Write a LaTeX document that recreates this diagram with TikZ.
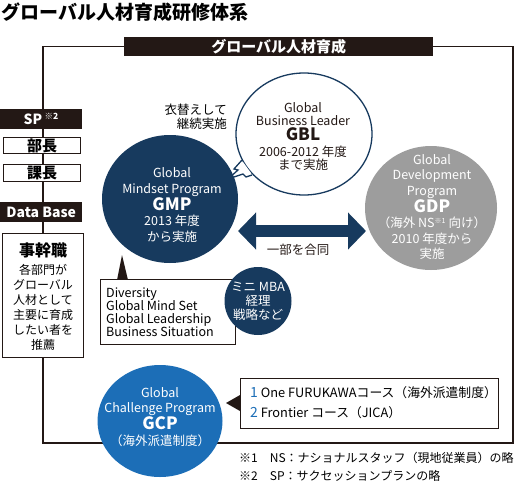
\documentclass[tikz,border=0pt]{standalone}
\usepackage{fontspec}
\setmainfont{Noto Sans CJK JP}
\usetikzlibrary{positioning,shapes.geometric,arrows.meta}

\definecolor{navy}{HTML}{173A5E}
\definecolor{inkblack}{HTML}{231815}
\definecolor{gdpgray}{HTML}{9D9D9D}
\definecolor{gcpblue}{HTML}{1C6EB7}

\tikzset{
  frameline/.style={draw=inkblack, line width=1.3pt},
  blackbar/.style={fill=inkblack, text=white, inner sep=0pt, font=\bfseries\fontsize{14}{16}\selectfont},
  rankbox/.style={draw=inkblack, fill=white, line width=1.2pt, inner sep=0pt, font=\bfseries\fontsize{15}{17}\selectfont},
  textbox/.style={draw=inkblack, fill=white, line width=1pt, inner sep=0pt},
  progcircle/.style={ellipse, inner sep=0pt},
  circtext/.style={align=center, inner sep=0pt, font=\fontsize{12.5}{15.5}\selectfont},
  dblarrow/.style={draw=navy, line width=12pt, {Triangle[width=36pt,length=18pt]}-{Triangle[width=36pt,length=18pt]}}
}

\begin{document}
\begin{tikzpicture}[x=1pt, y=-1pt]

    \useasboundingbox (0,0) rectangle (516,482);

    % title
    \node[anchor=west, inner sep=0pt, font=\bfseries\fontsize{19}{21}\selectfont] (title) at (1,12) {グローバル人材育成研修体系};

    % frame
    \node[blackbar, minimum width=309pt, minimum height=19pt, anchor=north west, font=\bfseries\fontsize{15}{17}\selectfont] (topbar) at (124,37) {グローバル人材育成};
    \coordinate (fbl) at (43,443);
    \coordinate (fbr) at (513,443);
    \draw[frameline] (topbar.west) -| (fbl) -- (fbr) |- (topbar.east);

    % left column
    \node[blackbar, minimum width=82pt, minimum height=20pt, anchor=north west] (sp) at (0,109) {SP\,\textsuperscript{\fontsize{8.5}{8.5}\selectfont ※2}};
    \node[rankbox, minimum width=77pt, minimum height=16pt, anchor=north west] (bucho) at (3,137) {部長};
    \node[rankbox, minimum width=77pt, minimum height=17pt, anchor=north west] (kacho) at (3,164) {課長};
    \node[blackbar, minimum width=82pt, minimum height=20pt, anchor=north west] (db) at (0,202) {Data Base};
    \node[rankbox, minimum width=81pt, minimum height=124pt, anchor=north west] (kanbu) at (2,233) {};
    \node[circtext, font=\bfseries\fontsize{16}{18}\selectfont] (kanbutitle) at (43,250) {事幹職};
    \node[circtext, below=6pt of kanbutitle, font=\fontsize{12}{15}\selectfont] (kanbutext) {各部門が\\グローバル\\人材として\\主要に育成\\したい者を\\推薦};

    % GBL
    \node[progcircle, draw=navy, line width=1.3pt, fill=white, minimum width=136pt, minimum height=122pt] (gbl) at (304,134) {};
    \fill[white] (243,162) -- (234,169) -- (238,170) -- (228,179) -- (243,174) -- (246,177) -- (251,173) -- cycle;
    \draw[navy, line width=1.3pt, line join=miter] (242,160) -- (234,169) -- (238,170) -- (228,179) -- (243,174) -- (246,177) -- (252,175);
    \node[circtext, text=inkblack] (gbltext) at (303,137) {Global\\[-3pt]Business Leader\\{\bfseries\fontsize{17}{18}\selectfont GBL}\\2006-2012 年度\\[-2pt]まで実施};
    \node[circtext, align=right, anchor=east] (kigae) at (227,117) {衣替えして\\[-1pt]継続実施};

    % GMP
    \node[progcircle, fill=navy, minimum width=136pt, minimum height=128pt] (gmp) at (170,199) {};
    \node[circtext, text=white] (gmptext) at (172,205) {Global\\Mindset Program\\{\bfseries\fontsize{17}{18}\selectfont GMP}\\2013 年度\\から実施};

    % GDP
    \node[progcircle, fill=gdpgray, minimum width=132pt, minimum height=124pt] (gdp) at (431,208) {};
    \node[circtext, text=white] (gdptext) at (432,207) {Global\\Development\\Program\\{\bfseries\fontsize{17}{18}\selectfont GDP}\\（海外 NS\textsuperscript{\fontsize{7}{7}\selectfont ※1} 向け）\\2010 年度から\\実施};

    % joint part
    \coordinate (arl) at (238,231);
    \coordinate (arr) at (366,231);
    \draw[dblarrow] (arl) -- (arr);
    \node[circtext, text=inkblack] (godo) at (298,250) {一部を合同};

    % contents box
    \fill[inkblack] (117,280) -- (122,255) -- (128,280) -- cycle;
    \node[textbox, minimum width=135pt, minimum height=65pt, anchor=north west] (contents) at (100,279) {};
    \node[circtext, align=left, anchor=west, font=\fontsize{12.5}{13}\selectfont] (contentstext) at (106,312) {Diversity\\Global Mind Set\\Global Leadership\\Business Situation};

    % mini MBA
    \node[progcircle, fill=navy, minimum width=67pt, minimum height=68pt] (mba) at (258,301) {};
    \node[circtext, text=white, font=\fontsize{12.5}{14}\selectfont] (mbatext) at (258,301) {ミニ MBA\\経理\\戦略など};

    % GCP
    \node[progcircle, fill=gcpblue, minimum width=125pt, minimum height=112pt] (gcp) at (160,421) {};
    \node[circtext, text=white] (gcptext) at (160,417) {Global\\Challenge Program\\{\bfseries\fontsize{17}{18}\selectfont GCP}\\（海外派遣制度）};
    \fill[inkblack] (240,395) -- (226,403) -- (240,411) -- cycle;
    \node[textbox, minimum width=258pt, minimum height=50pt, anchor=north west] (course) at (240,378) {};
    \node[circtext, align=left, anchor=west, font=\fontsize{12.8}{20}\selectfont] (coursetext) at (250,403) {{\color{gcpblue}\fontsize{14}{14}\selectfont 1} One FURUKAWAコース（海外派遣制度）\\{\color{gcpblue}\fontsize{14}{14}\selectfont 2} Frontier コース（JICA）};

    % notes
    \node[circtext, align=left, anchor=west, font=\fontsize{12}{18}\selectfont] (notes) at (239,467) {※1　NS：ナショナルスタッフ（現地従業員）の略\\※2　SP：サクセッションプランの略};

\end{tikzpicture}
\end{document}
